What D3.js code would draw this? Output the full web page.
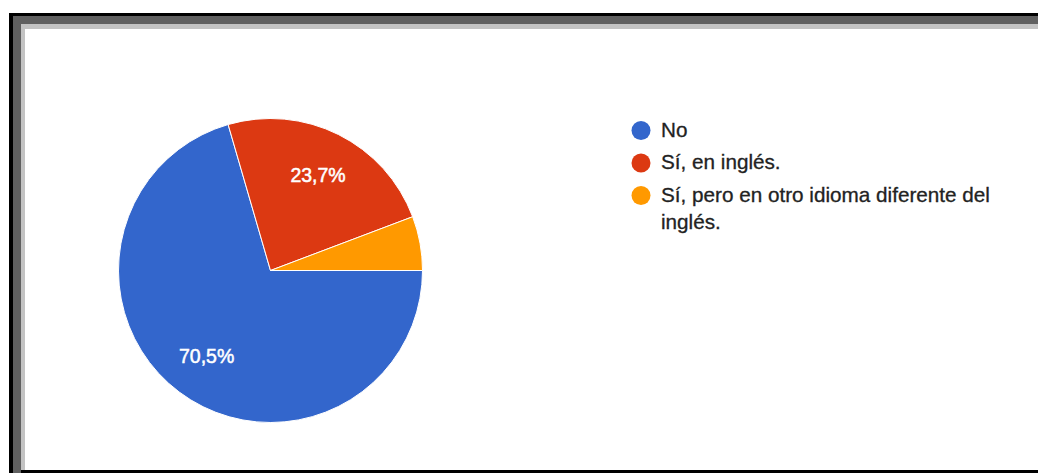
<!DOCTYPE html>
<html>
<head>
<meta charset="utf-8">
<script src="https://cdn.jsdelivr.net/npm/d3@7/dist/d3.min.js"></script>
<style>
  html, body { margin: 0; padding: 0; background: #fff; }
  svg { display: block; font-family: "Liberation Sans", Arial, sans-serif; }
</style>
</head>
<body>
<div id="chart"></div>
<script>
// Answers to a yes/no(+language) question, Google Forms style pie.
const categories = ["No", "Sí, en inglés.", "Sí, pero en otro idioma diferente del inglés."];
const counts = [98, 33, 8];
const colors = ["#3366cc", "#dc3912", "#ff9900"];

const width = 1038;
const height = 473;

const svg = d3.select("#chart").append("svg")
  .attr("width", width)
  .attr("height", height);

// screenshot frame: black edge, dark grey bevel, light grey inner line
svg.append("rect").attr("x", 9).attr("y", 13).attr("width", 1040).attr("height", 460).attr("fill", "#000");
svg.append("rect").attr("x", 13).attr("y", 16).attr("width", 1030).attr("height", 457).attr("fill", "#606060");
svg.append("rect").attr("x", 21).attr("y", 470).attr("width", 1020).attr("height", 3).attr("fill", "#000");
svg.append("rect").attr("x", 21).attr("y", 24).attr("width", 1020).attr("height", 446).attr("fill", "#c3c3c3");
svg.append("rect").attr("x", 25).attr("y", 29).attr("width", 1015).attr("height", 441).attr("fill", "#fff");

// pie
const cx = 270.5, cy = 270.5, r = 152;
const total = d3.sum(counts);
const fmt = d3.formatLocale({ decimal: ",", thousands: ".", grouping: [3], currency: ["", "€"] }).format(".1%");

const pie = d3.pie()
  .sort(null)
  .startAngle(Math.PI / 2)
  .endAngle(Math.PI / 2 + 2 * Math.PI);
const arcs = pie(counts);

const arc = d3.arc().innerRadius(0).outerRadius(r);
const labelArc = d3.arc().innerRadius(r * 0.7).outerRadius(r * 0.7);

const g = svg.append("g").attr("transform", `translate(${cx},${cy})`);

g.selectAll("path.slice")
  .data(arcs)
  .join("path")
  .attr("class", "slice")
  .attr("d", arc)
  .attr("fill", (d, i) => colors[i])
  .attr("stroke", "#fff")
  .attr("stroke-width", 1);

// only slices big enough get a percentage inside
g.selectAll("text.pct")
  .data(arcs.filter(d => d.value / total >= 0.1))
  .join("text")
  .attr("class", "pct")
  .attr("transform", d => `translate(${labelArc.centroid(d)})`)
  .attr("text-anchor", "middle")
  .attr("dy", "0.36em")
  .attr("fill", "#fff")
  .attr("stroke", "#fff")
  .attr("stroke-width", 0.5)
  .style("font-size", "19.5px")
  .text(d => fmt(d.value / total));

// legend
const legend = svg.append("g").attr("transform", "translate(641,0)");
const maxW = 350;
let baseline = 136.5;

categories.forEach((name, i) => {
  const item = legend.append("g");
  item.append("circle")
    .attr("cx", 0)
    .attr("cy", baseline - 6)
    .attr("r", 9.5)
    .attr("fill", colors[i]);

  const text = item.append("text")
    .attr("x", 20)
    .attr("y", baseline)
    .attr("fill", "#222")
    .attr("stroke", "#222")
    .attr("stroke-width", 0.3)
    .style("font-size", "20.7px");

  // wrap long labels on word boundaries
  const words = name.split(" ");
  let line = [];
  let tspan = text.append("tspan").attr("x", 20).attr("y", baseline);
  let lines = 1;
  words.forEach(w => {
    line.push(w);
    tspan.text(line.join(" "));
    if (tspan.node().getComputedTextLength() > maxW && line.length > 1) {
      line.pop();
      tspan.text(line.join(" "));
      line = [w];
      tspan = text.append("tspan")
        .attr("x", 20)
        .attr("y", baseline + lines * 27.5)
        .text(w);
      lines++;
    }
  });
  baseline += 32.5 + (lines - 1) * 27.5;
});
</script>
</body>
</html>
